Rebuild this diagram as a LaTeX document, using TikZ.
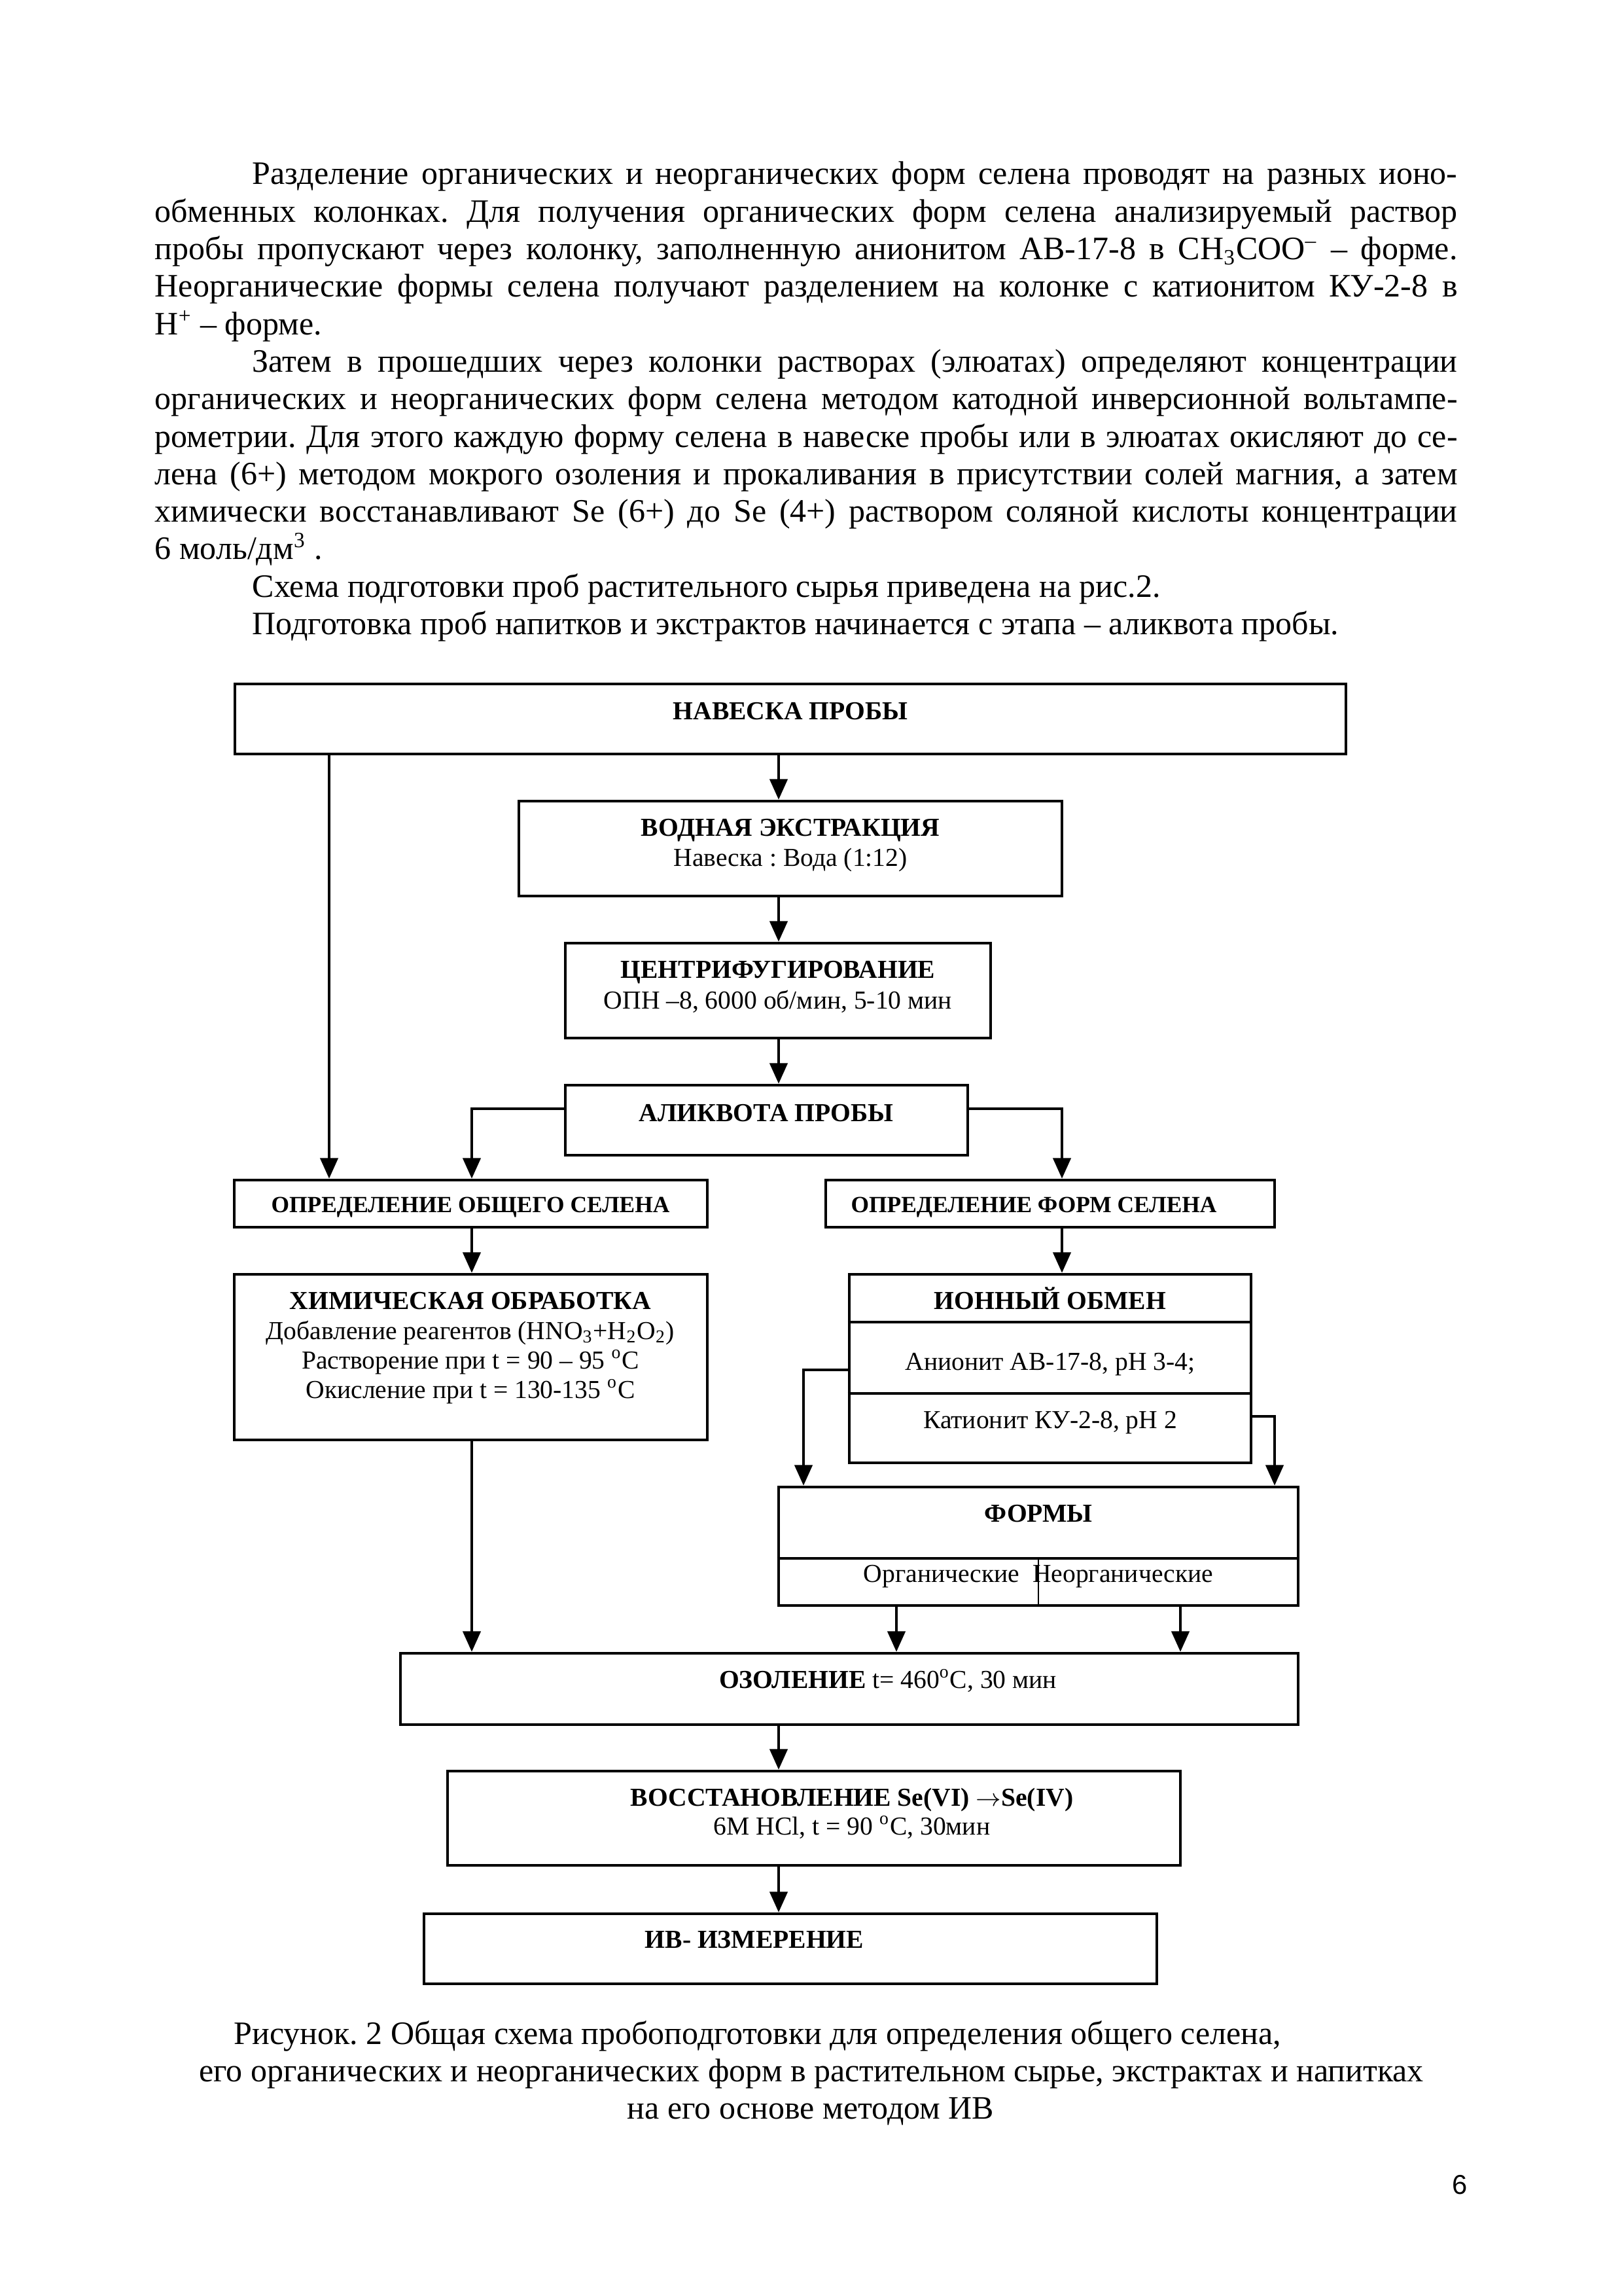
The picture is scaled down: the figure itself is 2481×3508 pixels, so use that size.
\documentclass[tikz,border=0pt]{standalone}
\usepackage{fontspec}
\setmainfont{Liberation Serif}
\newfontfamily\pagenumfont{Liberation Sans}
\usetikzlibrary{arrows.meta,fit}
\frenchspacing

\begin{document}
\begin{tikzpicture}[x=0.24pt, y=-0.24pt,
  box/.style={draw, line width=1.1pt, inner sep=0pt},
  arr/.style={line width=0.9pt, -{Triangle[width=6.5pt,length=7.5pt]}},
  title/.style={anchor=base, inner sep=0pt, font=\fontsize{9.5}{11}\bfseries},
  smalltitle/.style={anchor=base, inner sep=0pt, font=\fontsize{8.5}{10}\bfseries},
  sub/.style={anchor=base, inner sep=0pt, font=\fontsize{9.5}{11}\selectfont},
  textline/.style={anchor=base west, inner sep=0pt, font=\fontsize{12}{14}\selectfont}]
  % страница A4, 1 единица = 1 пиксель (300 dpi)
  \useasboundingbox (0,0) rectangle (2481,3508);
  \def\tw{477.8pt}
  \def\iw{442pt}

  % текст над рисунком
  \node[textline] (p1) at (385,282) {\makebox[\iw][s]{Разделение органических и неорганических форм селена проводят на разных ионо-}};
  \node[textline] (p2) at (236,339.3) {\makebox[\tw][s]{обменных колонках. Для получения органических форм селена анализируемый раствор}};
  \node[textline] (p3) at (236,396.6) {\makebox[\tw][s]{пробы пропускают через колонку, заполненную анионитом АВ-17-8 в CH\textsubscript{3}COO\textsuperscript{–} – форме.}};
  \node[textline] (p4) at (236,453.9) {\makebox[\tw][s]{Неорганические формы селена получают разделением на колонке с катионитом КУ-2-8 в}};
  \node[textline] (p5) at (236,511.2) {H\textsuperscript{+} – форме.};
  \node[textline] (p6) at (385,568.5) {\makebox[\iw][s]{Затем в прошедших через колонки растворах (элюатах) определяют концентрации}};
  \node[textline] (p7) at (236,625.8) {\makebox[\tw][s]{органических и неорганических форм селена методом катодной инверсионной вольтампе-}};
  \node[textline] (p8) at (236,683.1) {\makebox[\tw][s]{рометрии. Для этого каждую форму селена в навеске пробы или в элюатах окисляют до се-}};
  \node[textline] (p9) at (236,740.4) {\makebox[\tw][s]{лена (6+) методом мокрого озоления и прокаливания в присутствии солей магния, а затем}};
  \node[textline] (p10) at (236,797.7) {\makebox[\tw][s]{химически восстанавливают Se (6+) до Se (4+) раствором соляной кислоты концентрации}};
  \node[textline] (p11) at (236,855) {6 моль/дм\textsuperscript{3} .};
  \node[textline] (p12) at (385,912.3) {Схема подготовки проб растительного сырья приведена на рис.2.};
  \node[textline] (p13) at (385,969.6) {Подготовка проб напитков и экстрактов начинается с этапа – аликвота пробы.};

  % блоки схемы
  \node[box, fit={(359,1045) (2057,1152)}] (nav) {};
  \node[box, fit={(793,1224) (1623,1369)}] (vod) {};
  \node[box, fit={(864,1441) (1514,1586)}] (cent) {};
  \node[box, fit={(864,1658) (1479,1765)}] (alik) {};
  \node[box, fit={(358,1803) (1081,1875)}] (obsh) {};
  \node[box, fit={(1262,1803) (1948,1875)}] (opform) {};
  \node[box, fit={(358,1947) (1081,2200)}] (chem) {};
  \node[box, fit={(1298,1947) (1912,2235)}] (ion) {};
  \node[box, fit={(1190,2272) (1984,2453)}] (formy) {};
  \node[box, fit={(612,2526) (1984,2635)}] (ozol) {};
  \node[box, fit={(684,2706) (1804,2850)}] (vost) {};
  \node[box, fit={(648,2924) (1768,3031)}] (iv) {};

  % внутренние линии
  \coordinate (ion1) at (0,2020);
  \coordinate (ion2) at (0,2129);
  \coordinate (fdiv) at (0,2381);
  \coordinate (fmid) at (1587,0);
  \draw[line width=1.1pt] (ion.west |- ion1) -- (ion.east |- ion1);
  \draw[line width=1.1pt] (ion.west |- ion2) -- (ion.east |- ion2);
  \draw[line width=1.1pt] (formy.west |- fdiv) -- (formy.east |- fdiv);
  \draw[line width=0.6pt] (fmid |- fdiv) -- (fmid |- formy.south);

  % надписи в блоках
  \node[title] (navt) at (1208,1099) {НАВЕСКА ПРОБЫ};
  \node[title] (vodt) at (1208,1277) {ВОДНАЯ ЭКСТРАКЦИЯ};
  \node[sub] (vods) at (1208,1323) {Навеска : Вода (1:12)};
  \node[title] (centt) at (1189,1494) {ЦЕНТРИФУГИРОВАНИЕ};
  \node[sub] (cents) at (1189,1541) {ОПН –8, 6000 об/мин, 5-10 мин};
  \node[title] (alikt) at (1171,1713) {АЛИКВОТА ПРОБЫ};
  \node[smalltitle] (obsht) at (719,1852) {ОПРЕДЕЛЕНИЕ ОБЩЕГО СЕЛЕНА};
  \node[smalltitle] (opformt) at (1580,1852) {ОПРЕДЕЛЕНИЕ ФОРМ СЕЛЕНА};
  \node[title] (chemt) at (719,2000) {ХИМИЧЕСКАЯ ОБРАБОТКА};
  \node[sub] (chem1) at (719,2046) {Добавление реагентов (HNO\textsubscript{3}+H\textsubscript{2}O\textsubscript{2})};
  \node[sub] (chem2) at (719,2091) {Растворение при t = 90 – 95 \textsuperscript{o}C};
  \node[sub] (chem3) at (719,2136) {Окисление при t = 130-135 \textsuperscript{o}C};
  \node[title] (iont) at (1605,2000) {ИОННЫЙ ОБМЕН};
  \node[sub] (ion1t) at (1605,2093) {Анионит АВ-17-8, pH 3-4;};
  \node[sub] (ion2t) at (1605,2182) {Катионит КУ-2-8, pH 2};
  \node[title] (formyt) at (1587,2325) {ФОРМЫ};
  \node[sub] (formys) at (1587,2417) {Органические\ \ Неорганические};
  \node[sub] (ozolt) at (1357,2579) {\textbf{ОЗОЛЕНИЕ} t= 460\textsuperscript{o}C, 30 мин};
  \node[title] (vostt) at (1302,2759) {ВОССТАНОВЛЕНИЕ Se(VI) $\rightarrow$Se(IV)};
  \node[sub] (vosts) at (1302,2803) {6M HCl, t = 90 \textsuperscript{o}C, 30мин};
  \node[title] (ivt) at (1153,2976) {ИВ- ИЗМЕРЕНИЕ};

  % стрелки
  \coordinate (mid) at (1190,0);
  \coordinate (lft) at (503,0);
  \coordinate (obx) at (721,0);
  \coordinate (frx) at (1623,0);
  \coordinate (aly) at (0,1694);
  \coordinate (an) at (1228,2093);
  \coordinate (kat) at (1948,2164);
  \coordinate (org) at (1370,0);
  \coordinate (neorg) at (1804,0);
  \draw[arr] (mid |- nav.south) -- (mid |- vod.north);
  \draw[arr] (mid |- vod.south) -- (mid |- cent.north);
  \draw[arr] (mid |- cent.south) -- (mid |- alik.north);
  \draw[arr] (lft |- nav.south) -- (lft |- obsh.north);
  \draw[arr] (alik.west |- aly) -| (obx |- obsh.north);
  \draw[arr] (alik.east |- aly) -| (frx |- opform.north);
  \draw[arr] (obx |- obsh.south) -- (obx |- chem.north);
  \draw[arr] (frx |- opform.south) -- (frx |- ion.north);
  \draw[arr] (ion.west |- an) -| (an |- formy.north);
  \draw[arr] (ion.east |- kat) -| (kat |- formy.north);
  \draw[arr] (obx |- chem.south) -- (obx |- ozol.north);
  \draw[arr] (org |- formy.south) -- (org |- ozol.north);
  \draw[arr] (neorg |- formy.south) -- (neorg |- ozol.north);
  \draw[arr] (mid |- ozol.south) -- (mid |- vost.north);
  \draw[arr] (mid |- vost.south) -- (mid |- iv.north);

  % подпись и номер страницы
  \node[textline] (cap1) at (357,3123) {Рисунок. 2 Общая схема пробоподготовки для определения общего селена,};
  \node[textline, anchor=base] (cap2) at (1240,3180) {его органических и неорганических форм в растительном сырье, экстрактах и напитках};
  \node[textline, anchor=base] (cap3) at (1239,3237) {на его основе методом ИВ};
  \node[anchor=base east, inner sep=0pt, font=\pagenumfont\fontsize{10}{12}\selectfont] (pnum) at (2243,3352) {6};
\end{tikzpicture}
\end{document}
